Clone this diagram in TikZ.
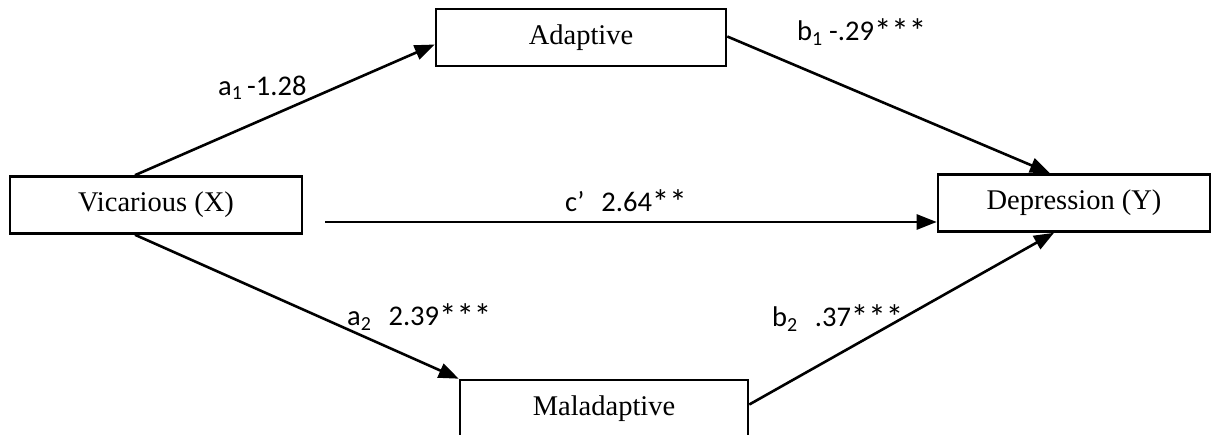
\documentclass[tikz,border=0pt]{standalone}
\usepackage{fontspec}
\setmainfont{Liberation Serif}
\newfontfamily\lblfont{Carlito}
\usetikzlibrary{arrows.meta}
\newcommand\sigstars[1]{\raisebox{-3pt}{\fontsize{35}{35}\selectfont #1}}
\begin{document}
\begin{tikzpicture}[x=1pt,y=-1pt,
  varbox/.style={draw,line width=2.6pt,minimum width=#1,minimum height=57pt,inner sep=0pt,
    font=\fontsize{28.5}{32}\selectfont},
  path/.style={line width=2.6pt,-{Triangle[length=20pt,width=15pt]}},
  lbl/.style={anchor=west,inner sep=0pt,font=\lblfont\fontsize{28.5}{32}\selectfont}]
\useasboundingbox (0,0) rectangle (1211,435);
\node[varbox=292pt] (V) at (156,205) {\raisebox{-2pt}{Vicarious (X)}};
\node[varbox=290pt] (A) at (581,37.5) {\raisebox{-2pt}{Adaptive}};
\node[varbox=272pt] (D) at (1074,203) {\raisebox{-2pt}{Depression (Y)}};
\node[varbox=288pt] (M) at (604,408.5) {\raisebox{-2pt}{Maladaptive}};
\coordinate (cstart) at (325,222);
\draw[path] ([xshift=-21pt]V.north) -- ([yshift=-7pt]A.west);
\draw[path] ([yshift=1pt]A.east) -- ([xshift=-24pt]D.north);
\draw[path] (cstart) -- ([yshift=-19pt]D.west);
\draw[path] ([xshift=-21pt]V.south) -- (M.north west);
\draw[path] ([yshift=4pt]M.east) -- ([xshift=-20pt]D.south);
\node[lbl] (la1) at (218,88) {a\textsubscript{1}\,-1.28};
\node[lbl] (lb1) at (797,32) {b\textsubscript{1} -.29\sigstars{***}};
\node[lbl] (lc) at (565,202) {c’\hspace{0.6em}2.64\sigstars{**}};
\node[lbl] (la2) at (347,317) {a\textsubscript{2}\hspace{0.6em}2.39\sigstars{***}};
\node[lbl] (lb2) at (772,318) {b\textsubscript{2}\hspace{0.6em}.37\sigstars{***}};
\end{tikzpicture}
\end{document}
